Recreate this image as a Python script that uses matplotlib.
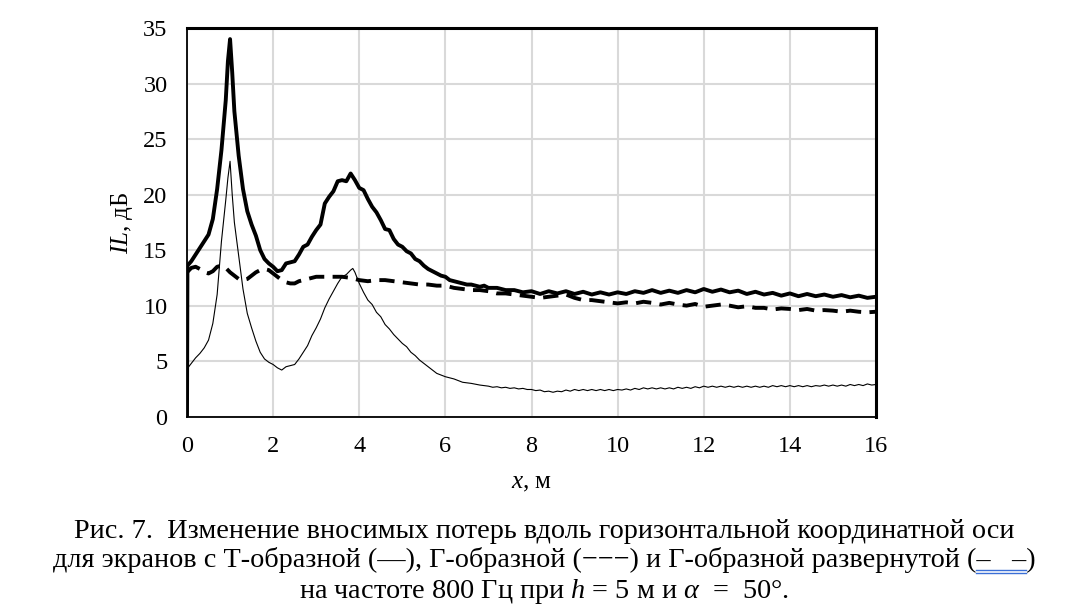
import matplotlib
matplotlib.use("Agg")
import matplotlib.pyplot as plt
from matplotlib.lines import Line2D

plt.rcParams['font.family'] = ['Liberation Serif', 'DejaVu Serif']
plt.rcParams['mathtext.fontset'] = 'custom'
plt.rcParams['mathtext.rm'] = 'Liberation Serif'
plt.rcParams['mathtext.it'] = 'Liberation Serif:italic'
plt.rcParams['lines.scale_dashes'] = False

# ---- data: T-shaped screen (thick solid) ----
t_x = [0, 0.01, 0.1, 0.2, 0.3, 0.4, 0.5, 0.6, 0.7, 0.8, 0.9, 0.95, 1.0, 1.05, 1.1, 1.2, 1.3,
       1.4, 1.5, 1.6, 1.7, 1.8, 1.9, 2.0, 2.1, 2.2, 2.3, 2.4, 2.5, 2.6, 2.7, 2.8, 2.9, 3.0,
       3.1, 3.2, 3.3, 3.4, 3.5, 3.6, 3.7, 3.8, 3.9, 4.0, 4.1, 4.2, 4.3, 4.4, 4.5, 4.6, 4.7,
       4.8, 4.9, 5.0, 5.1, 5.2, 5.3, 5.4, 5.5, 5.6, 5.7, 5.8, 5.9, 6.0, 6.1, 6.2, 6.3, 6.4,
       6.5, 6.6, 6.7, 6.8, 6.9, 7.0, 7.2, 7.4, 7.6, 7.8,
       8.0, 8.2, 8.4, 8.6, 8.8, 9.0, 9.2, 9.4, 9.6, 9.8, 10.0, 10.2, 10.4, 10.6, 10.8, 11.0,
       11.2, 11.4, 11.6, 11.8, 12.0, 12.2, 12.4, 12.6, 12.8, 13.0, 13.2, 13.4, 13.6, 13.8,
       14.0, 14.2, 14.4, 14.6, 14.8, 15.0, 15.2, 15.4, 15.6, 15.8, 16.0]
t_y = [0, 13.6, 14.0, 14.6, 15.2, 15.8, 16.4, 17.8, 20.5, 24.0, 28.5, 32.0, 34.0, 31.0, 27.5,
       23.5, 20.5, 18.5, 17.3, 16.3, 15.0, 14.2, 13.8, 13.5, 13.1, 13.2, 13.8, 13.9, 14.0,
       14.6, 15.3, 15.5, 16.2, 16.8, 17.3, 19.2, 19.8, 20.3, 21.2, 21.3, 21.2, 21.9, 21.3,
       20.6, 20.4, 19.6, 18.9, 18.4, 17.7, 16.9, 16.8, 16.0, 15.5, 15.3, 14.9, 14.7, 14.2,
       14.0, 13.6, 13.3, 13.1, 12.9, 12.7, 12.6, 12.3, 12.2, 12.1, 12.0, 11.9, 11.9, 11.8,
       11.7, 11.8, 11.6, 11.6, 11.4, 11.4, 11.2,
       11.3, 11.05, 11.3, 11.1, 11.3, 11.05, 11.25, 11.0, 11.2, 11.0, 11.2, 11.05, 11.3,
       11.15, 11.4, 11.15, 11.35, 11.15, 11.4, 11.2, 11.5, 11.25, 11.45, 11.2, 11.35, 11.05,
       11.25, 11.0, 11.15, 10.9, 11.1, 10.85, 11.05, 10.85, 11.0, 10.8, 10.95, 10.75, 10.9,
       10.7, 10.8]

# ---- data: Г-shaped screen (thin solid) ----
g_x = [0, 0.1, 0.2, 0.3, 0.4, 0.5, 0.6, 0.7, 0.8, 0.9, 0.95, 1.0, 1.05, 1.1, 1.2, 1.3, 1.4,
       1.5, 1.6, 1.7, 1.8, 1.9, 2.0, 2.1, 2.2, 2.3, 2.4, 2.5, 2.6, 2.7, 2.8, 2.9, 3.0, 3.1,
       3.2, 3.3, 3.4, 3.5, 3.6, 3.7, 3.8, 3.85, 3.9, 4.0, 4.1, 4.2, 4.3, 4.4, 4.5, 4.6, 4.7,
       4.8, 4.9, 5.0, 5.1, 5.2, 5.3, 5.4, 5.5, 5.6, 5.7, 5.8, 5.9, 6.0, 6.2, 6.4, 6.6, 6.8,
       7.0, 7.1, 7.2, 7.3, 7.4, 7.5, 7.6, 7.7, 7.8, 7.9, 8.0, 8.1, 8.2, 8.3, 8.4, 8.5, 8.6,
       8.7, 8.8, 8.9, 9.0, 9.1, 9.2, 9.3, 9.4, 9.5, 9.6, 9.7, 9.8, 9.9, 10.0, 10.1, 10.2,
       10.3, 10.4, 10.5, 10.6, 10.7, 10.8, 10.9, 11.0, 11.1, 11.2, 11.3, 11.4, 11.5, 11.6,
       11.7, 11.8, 11.9, 12.0, 12.1, 12.2, 12.3, 12.4, 12.5, 12.6, 12.7, 12.8, 12.9, 13.0,
       13.1, 13.2, 13.3, 13.4, 13.5, 13.6, 13.7, 13.8, 13.9, 14.0, 14.1, 14.2, 14.3, 14.4,
       14.5, 14.6, 14.7, 14.8, 14.9, 15.0, 15.1, 15.2, 15.3, 15.4, 15.5, 15.6, 15.7, 15.8,
       15.9, 16.0]
g_y = [4.3, 4.8, 5.3, 5.7, 6.2, 6.9, 8.4, 11.0, 15.8, 19.5, 21.5, 23.0, 20.0, 17.5, 14.5,
       11.5, 9.3, 8.0, 6.8, 5.8, 5.2, 4.9, 4.7, 4.4, 4.2, 4.5, 4.6, 4.7, 5.2, 5.8, 6.4, 7.3,
       8.0, 8.8, 9.8, 10.6, 11.3, 12.0, 12.6, 12.8, 13.2, 13.35, 13.0, 12.0, 11.2, 10.5,
       10.1, 9.4, 9.0, 8.3, 7.9, 7.4, 7.0, 6.6, 6.3, 5.8, 5.5, 5.1, 4.8, 4.5, 4.2, 3.9, 3.75,
       3.6, 3.4, 3.1, 3.0, 2.85,
       2.75, 2.65, 2.7, 2.6, 2.65, 2.55, 2.6, 2.5, 2.55, 2.45, 2.45, 2.35, 2.4, 2.25, 2.3,
       2.2, 2.3, 2.25, 2.4, 2.3, 2.45, 2.35, 2.45, 2.35, 2.45, 2.35, 2.45, 2.35, 2.45, 2.35,
       2.45, 2.4, 2.5, 2.4, 2.55, 2.45, 2.6, 2.5, 2.6, 2.5, 2.6, 2.5, 2.6, 2.5, 2.65, 2.55,
       2.65, 2.55, 2.7, 2.6, 2.75, 2.65, 2.75, 2.65, 2.75, 2.65, 2.75, 2.65, 2.75, 2.65,
       2.75, 2.65, 2.75, 2.65, 2.75, 2.65, 2.8, 2.7, 2.8, 2.7, 2.8, 2.7, 2.8, 2.7, 2.8, 2.7,
       2.8, 2.75, 2.85, 2.75, 2.85, 2.75, 2.85, 2.75, 2.9, 2.8, 2.9, 2.8, 2.95, 2.85, 2.9]

# ---- data: Г-shaped unfolded screen (dashed) ----
d_x = [0, 0.1, 0.2, 0.3, 0.4, 0.5, 0.6, 0.7, 0.8, 0.9, 1.0, 1.1, 1.2, 1.3, 1.4, 1.5, 1.6,
       1.7, 1.8, 1.9, 2.0, 2.1, 2.2, 2.3, 2.4, 2.5, 2.6, 2.7, 2.8, 2.9, 3.0, 3.2, 3.4, 3.6,
       3.8, 4.0, 4.2, 4.4, 4.6, 4.8, 5.0, 5.2, 5.4, 5.6, 5.8, 6.0, 6.2, 6.4, 6.6, 6.8, 7.0,
       7.2, 7.4, 7.6, 7.8, 8.0, 8.2, 8.4, 8.6, 8.8, 9.0, 9.2, 9.4, 9.6, 9.8, 10.0, 10.2,
       10.4, 10.6, 10.8, 11.0, 11.2, 11.4, 11.6, 11.8, 12.0, 12.2, 12.4, 12.6, 12.8, 13.0,
       13.2, 13.4, 13.6, 13.8, 14.0, 14.2, 14.4, 14.6, 14.8, 15.0, 15.2, 15.4, 15.6, 15.8,
       16.0]
d_y = [13.0, 13.4, 13.5, 13.3, 13.0, 12.9, 13.1, 13.5, 13.6, 13.4, 13.0, 12.7, 12.4, 12.3,
       12.4, 12.7, 13.0, 13.2, 13.3, 13.2, 12.9, 12.6, 12.3, 12.1, 12.0, 12.0, 12.2, 12.3,
       12.4, 12.5, 12.6, 12.6, 12.6, 12.6, 12.5, 12.3, 12.2, 12.3, 12.3, 12.2, 12.1, 12.0,
       11.9, 11.9, 11.8, 11.8, 11.6, 11.5, 11.4, 11.4, 11.3, 11.1, 11.1, 11.0, 10.9, 10.8,
       10.7, 10.8, 10.9, 11.0, 10.7, 10.5, 10.5, 10.4, 10.3, 10.2, 10.3, 10.2, 10.35, 10.25,
       10.1, 10.25, 10.1, 10.0, 10.15, 9.9, 10.0, 10.1, 10.0, 9.85, 9.95, 9.8, 9.8, 9.65,
       9.75, 9.7, 9.6, 9.7, 9.55, 9.6, 9.55, 9.45, 9.55, 9.45, 9.4, 9.45]

x_ticks = [0, 2, 4, 6, 8, 10, 12, 14, 16]
y_ticks = [0, 5, 10, 15, 20, 25, 30, 35]

underlined = "–   –)"
caption = ["Рис. 7.  Изменение вносимых потерь вдоль горизонтальной координатной оси",
           "для экранов с Т-образной (—), Г-образной (−−−) и Г-образной развернутой (" + underlined,
           r"на частоте 800 Гц при $\mathit{h}$ = 5 м и $\mathit{\alpha}$  =  50°."]

W, H = 1078, 610
fig = plt.figure(figsize=(W / 100, H / 100), dpi=100)
ax = fig.add_axes([187/W, 1 - 416.7/H, (876 - 187)/W, (416.7 - 28)/H])

ax.plot(g_x, g_y, color='black', lw=0.8, zorder=3)
ax.plot(d_x, d_y, color='black', lw=2.8, dashes=(11, 6), zorder=4)
ax.plot(t_x, t_y, color='black', lw=2.8, zorder=5, solid_joinstyle='round')

ax.set_xlim(0, 16)
ax.set_ylim(0, 35)
ax.set_xticks(x_ticks)
ax.set_yticks(y_ticks)
ax.grid(True, color='#d9d9d9', lw=1.5)
ax.set_axisbelow(True)
ax.tick_params(length=0, labelsize=17.5, pad=14)
for s in ['top', 'right']:
    ax.spines[s].set_linewidth(2.2)
for s in ['left', 'bottom']:
    ax.spines[s].set_linewidth(1.3)

ax.set_xlabel(r"$\mathit{x}$, м", fontsize=18, labelpad=11)
ax.set_ylabel(r"$\mathit{IL}$, дБ", fontsize=18, labelpad=6)

cap_fs = 20.3
baselines = [538, 567, 598]
texts = []
for line, yp in zip(caption, baselines):
    texts.append(fig.text(544/W, 1 - yp/H, line, ha='center', va='baseline', fontsize=cap_fs))

# blue double underline under the last legend symbol of line 2 (spell-check mark)
fig.canvas.draw()
r = fig.canvas.get_renderer()
bb = texts[1].get_window_extent(r)
tmp1 = fig.text(0, 0, underlined, fontsize=cap_fs)
tmp2 = fig.text(0, 0, ")", fontsize=cap_fs)
w1 = tmp1.get_window_extent(r).width
w2 = tmp2.get_window_extent(r).width
tmp1.remove()
tmp2.remove()
x0 = (bb.x1 - w1) / W
x1 = (bb.x1 - w2) / W
ybase = 1 - baselines[1] / H
for dy in (3, 6):
    fig.add_artist(Line2D([x0, x1], [ybase - dy / H, ybase - dy / H],
                          transform=fig.transFigure, color='#3b6fd6', lw=1.0))

fig.savefig("out.png", dpi=100)
